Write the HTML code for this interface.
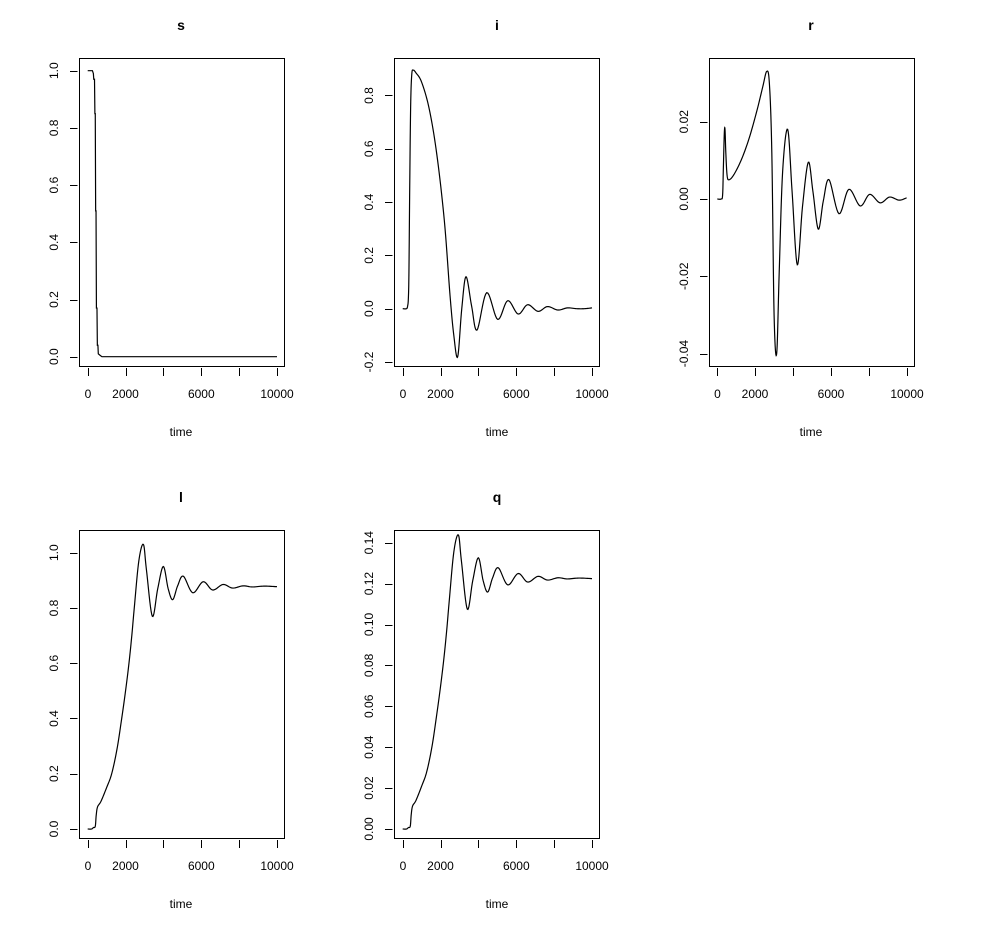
<!DOCTYPE html>
<html><head><meta charset="utf-8"><style>
html,body{margin:0;padding:0;background:#fff}
svg{display:block}
text{font-family:"Liberation Sans",sans-serif;font-size:12px;fill:#000}
.t{font-size:14px;font-weight:bold}
</style></head><body>
<svg id="s" width="998" height="925" xmlns="http://www.w3.org/2000/svg">
<g stroke="#000" fill="none" stroke-width="1">
<rect x="79.5" y="58.5" width="205" height="308"/>
<rect x="394.5" y="58.5" width="205" height="308"/>
<rect x="709.5" y="58.5" width="205" height="308"/>
<rect x="79.5" y="530.5" width="205" height="308"/>
<rect x="394.5" y="530.5" width="205" height="308"/>
</g>
<g id="ax" stroke="#000" stroke-width="1"></g>
<g id="cv" stroke="#000" stroke-width="1.2" fill="none"></g>
<g text-anchor="middle">
<text class="t" x="181" y="30">s</text>
<text class="t" x="497" y="30">i</text>
<text class="t" x="811" y="30">r</text>
<text class="t" x="181" y="502">l</text>
<text class="t" x="497" y="502">q</text>
<text x="181" y="436">time</text><text x="497" y="436">time</text><text x="811" y="436">time</text>
<text x="181" y="908">time</text><text x="497" y="908">time</text>
<text x="88" y="398">0</text><text x="125.5" y="398">2000</text><text x="201.3" y="398">6000</text><text x="277" y="398">10000</text>
<text x="403" y="398">0</text><text x="440.5" y="398">2000</text><text x="516.3" y="398">6000</text><text x="592" y="398">10000</text>
<text x="717.5" y="398">0</text><text x="755" y="398">2000</text><text x="831" y="398">6000</text><text x="907" y="398">10000</text>
<text x="88" y="870">0</text><text x="125.5" y="870">2000</text><text x="201.3" y="870">6000</text><text x="277" y="870">10000</text>
<text x="403" y="870">0</text><text x="440.5" y="870">2000</text><text x="516.3" y="870">6000</text><text x="592" y="870">10000</text>
<text transform="translate(58,356.7) rotate(-90)">0.0</text>
<text transform="translate(58,299.5) rotate(-90)">0.2</text>
<text transform="translate(58,242.3) rotate(-90)">0.4</text>
<text transform="translate(58,185.1) rotate(-90)">0.6</text>
<text transform="translate(58,127.9) rotate(-90)">0.8</text>
<text transform="translate(58,70.7) rotate(-90)">1.0</text>
<text transform="translate(373,362) rotate(-90)">-0.2</text>
<text transform="translate(373,308.7) rotate(-90)">0.0</text>
<text transform="translate(373,255.4) rotate(-90)">0.2</text>
<text transform="translate(373,202.1) rotate(-90)">0.4</text>
<text transform="translate(373,148.8) rotate(-90)">0.6</text>
<text transform="translate(373,95.5) rotate(-90)">0.8</text>
<text transform="translate(688,353.6) rotate(-90)">-0.04</text>
<text transform="translate(688,276.3) rotate(-90)">-0.02</text>
<text transform="translate(688,199) rotate(-90)">0.00</text>
<text transform="translate(688,121.7) rotate(-90)">0.02</text>
<text transform="translate(58,829) rotate(-90)">0.0</text>
<text transform="translate(58,773.7) rotate(-90)">0.2</text>
<text transform="translate(58,718.5) rotate(-90)">0.4</text>
<text transform="translate(58,663.2) rotate(-90)">0.6</text>
<text transform="translate(58,608) rotate(-90)">0.8</text>
<text transform="translate(58,552.7) rotate(-90)">1.0</text>
<text transform="translate(373,829) rotate(-90)">0.00</text>
<text transform="translate(373,788.1) rotate(-90)">0.02</text>
<text transform="translate(373,747.2) rotate(-90)">0.04</text>
<text transform="translate(373,706.3) rotate(-90)">0.06</text>
<text transform="translate(373,665.4) rotate(-90)">0.08</text>
<text transform="translate(373,624.5) rotate(-90)">0.10</text>
<text transform="translate(373,583.6) rotate(-90)">0.12</text>
<text transform="translate(373,542.7) rotate(-90)">0.14</text>
</g>
</svg>
<script>
var NS="http://www.w3.org/2000/svg",ax=document.getElementById("ax"),cv=document.getElementById("cv");
function ln(x1,y1,x2,y2){var e=document.createElementNS(NS,"line");e.setAttribute("x1",x1);e.setAttribute("y1",y1);e.setAttribute("x2",x2);e.setAttribute("y2",y2);ax.appendChild(e);}
var P=[
 {bx:79,by:58,x0:87.7,y0:356.7,k:286,ticks:[0,.2,.4,.6,.8,1]},
 {bx:394,by:58,x0:402.7,y0:308.7,k:266.5,ticks:[-.2,0,.2,.4,.6,.8]},
 {bx:709,by:58,x0:717.3,y0:199,k:3865,ticks:[-.04,-.02,0,.02]},
 {bx:79,by:530,x0:87.7,y0:829,k:276.3,ticks:[0,.2,.4,.6,.8,1]},
 {bx:394,by:530,x0:402.7,y0:829,k:2045,ticks:[0,.02,.04,.06,.08,.1,.12,.14]}];
var sx=0.01893;
P.forEach(function(p){
 var yb=p.by+308;
 for(var t=0;t<=10000;t+=2000){var x=Math.round(p.x0+t*sx)+0.5;ln(x,yb+2,x,yb+10);}
 p.ticks.forEach(function(v){var y=Math.round(p.y0-v*p.k)+0.5;ln(p.bx-9,y,p.bx-1.5,y);});
});
function cr(pts){var out=[];for(var i=0;i<pts.length-1;i++){var p0=pts[Math.max(0,i-1)],p1=pts[i],p2=pts[i+1],p3=pts[Math.min(pts.length-1,i+2)];
 for(var s=0;s<10;s++){var t=s/10,t2=t*t,t3=t2*t;
 var f=function(a,b,c,d){return 0.5*((2*b)+(-a+c)*t+(2*a-5*b+4*c-d)*t2+(-a+3*b-3*c+d)*t3);};
 out.push([f(p0[0],p1[0],p2[0],p3[0]),f(p0[1],p1[1],p2[1],p3[1])]);}}
 out.push(pts[pts.length-1]);return out;}
function draw(p,pts,raw){var q=raw?pts:cr(pts);var d="";q.forEach(function(a,i){d+=(i?"L":"M")+(p.x0+a[0]*sx).toFixed(2)+","+(p.y0-a[1]*p.k).toFixed(2);});
 var e=document.createElementNS(NS,"path");e.setAttribute("d",d);cv.appendChild(e);}
draw(P[0],[[0,1],[250,1],[300,0.99],[320,0.97],[360,0.97],[380,0.85],[400,0.85],[420,0.51],[440,0.51],[460,0.17],[490,0.17],[510,0.04],[540,0.04],[560,0.01],[650,0.005],[750,0],[10000,0]],true);
draw(P[1],[[0,0],[200,0],[260,0.01],[300,0.04],[330,0.14],[370,0.45],[420,0.76],[480,0.88],[560,0.895],[700,0.885],[1000,0.85],[1400,0.75],[1800,0.58],[2200,0.33],[2500,0.05],[2700,-0.1],[2905,-0.18],[3120,0],[3344,0.12],[3640,0.01],[3925,-0.08],[4437,0.06],[5018,-0.04],[5547,0.03],[6100,-0.02],[6600,0.015],[7150,-0.01],[7650,0.008],[8200,-0.005],[8700,0.003],[9200,0],[9600,0],[10000,0.003]]);
draw(P[2],[[0,0],[200,0],[280,0.001],[320,0.008],[370,0.017],[407,0.018],[450,0.012],[520,0.006],[634,0.005],[900,0.0065],[1300,0.0105],[1700,0.016],[2100,0.023],[2400,0.029],[2609,0.033],[2750,0.03],[2880,0.012],[3000,-0.03],[3137,-0.04],[3270,-0.019],[3450,0.007],[3718,0.018],[3950,0.002],[4226,-0.017],[4500,-0.002],[4808,0.0095],[5050,0.002],[5335,-0.0078],[5600,-0.0005],[5900,0.005],[6428,-0.0038],[6950,0.0025],[7550,-0.0018],[8050,0.0012],[8600,-0.001],[9100,0.0005],[9600,-0.0003],[10000,0.0003]]);
var L=[[0,0],[200,0],[300,0.005],[400,0.01],[450,0.05],[520,0.08],[700,0.1],[1000,0.15],[1267,0.2],[1550,0.29],[1796,0.4],[2000,0.5],[2180,0.6],[2330,0.7],[2460,0.8],[2700,0.97],[2940,1.03],[3100,0.94],[3414,0.77],[3700,0.87],[3995,0.95],[4250,0.87],[4490,0.83],[4750,0.88],[5050,0.915],[5550,0.855],[6100,0.895],[6600,0.865],[7150,0.885],[7650,0.872],[8200,0.88],[8700,0.876],[9300,0.879],[10000,0.877]];
draw(P[3],L);
draw(P[4],L.map(function(a){return [a[0],a[1]*0.1396];}));
</script>
</body></html>
